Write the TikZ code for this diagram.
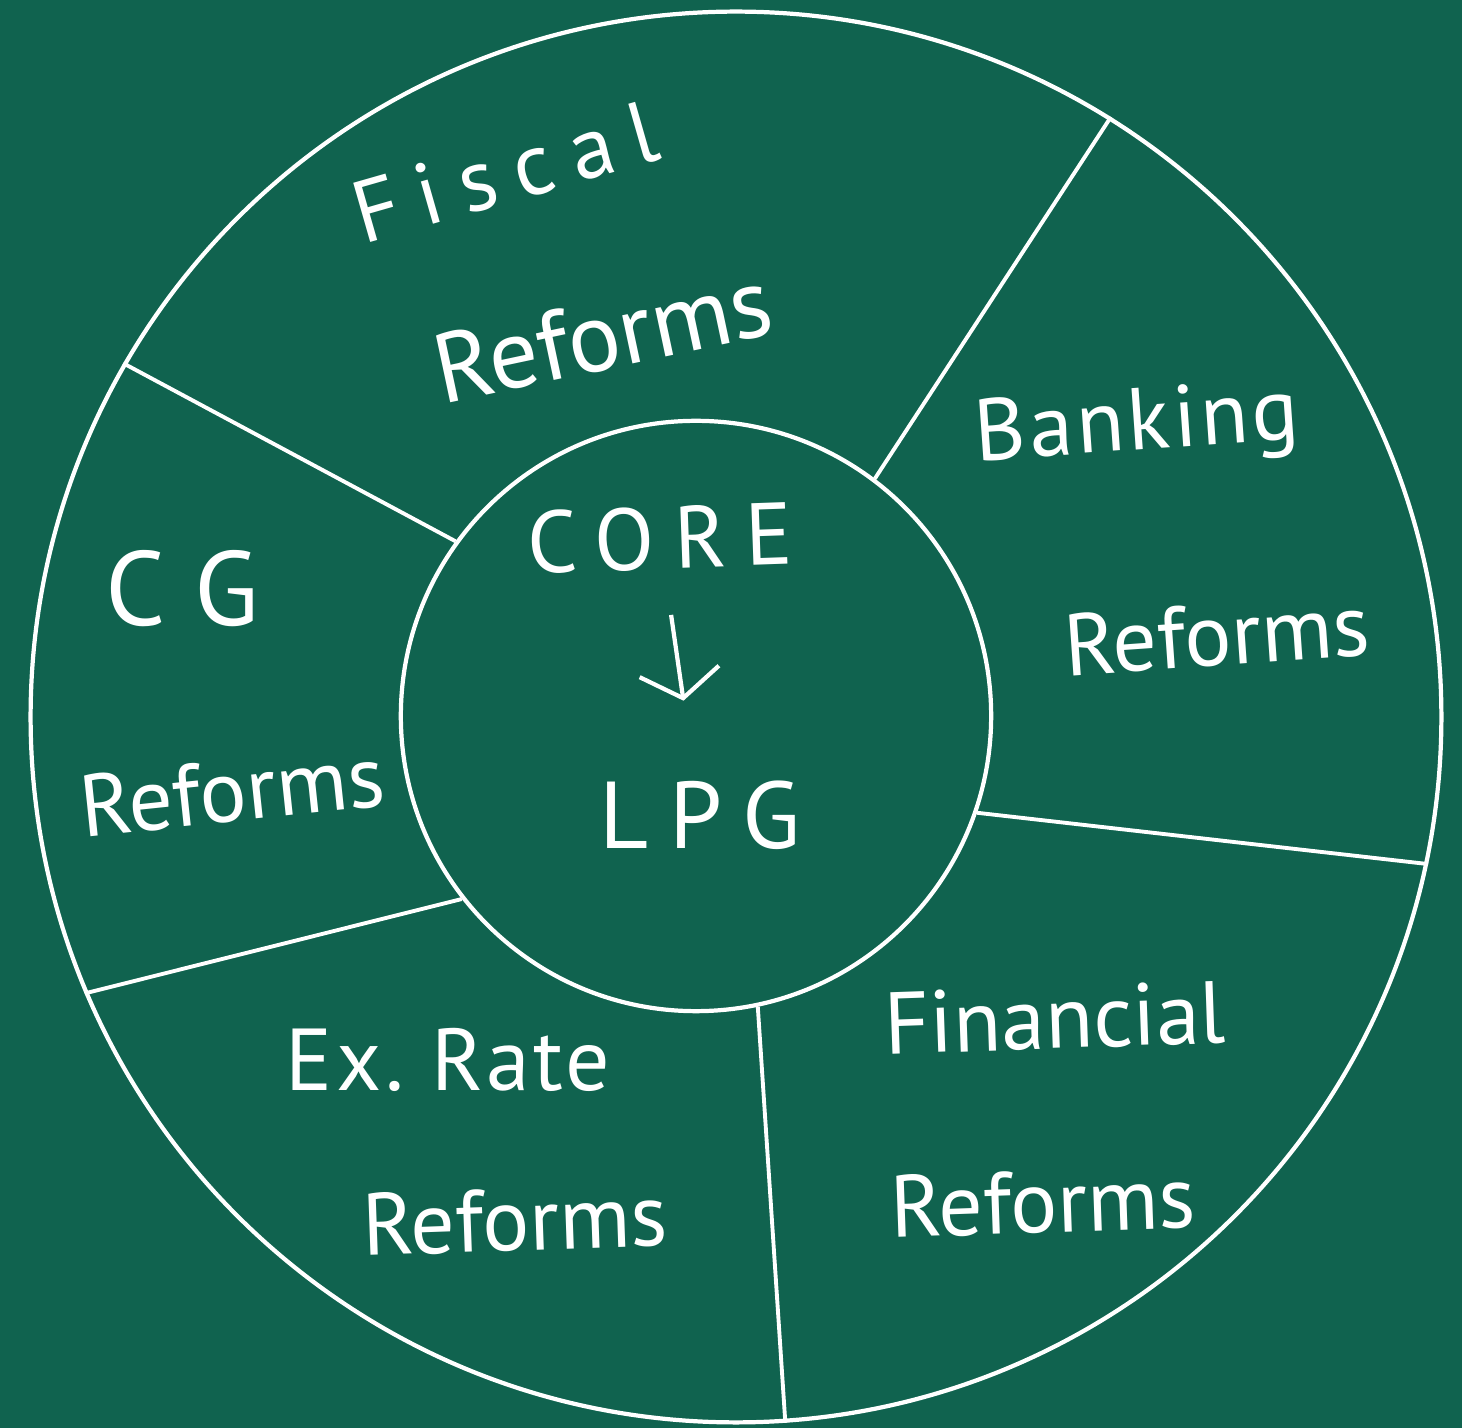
\documentclass[tikz,border=0pt]{standalone}
\usepackage{fontspec}
\setmainfont{PT Sans}
\newfontfamily\chalk{PT Sans}
\newfontfamily\chalkmid[LetterSpace=4]{PT Sans}
\newfontfamily\chalkwide[LetterSpace=22]{PT Sans}
\usetikzlibrary{arrows.meta, positioning}
\definecolor{board}{RGB}{16,99,79}

\tikzset{
  ring/.style={circle, draw=white, line width=1.2pt, inner sep=0pt},
  divider/.style={draw=white, line width=1.1pt},
  word/.style={text=white, inner sep=0pt, font=\chalk\fontsize{25}{30}\selectfont},
  midword/.style={word, font=\chalkmid\fontsize{25}{30}\selectfont},
  wideword/.style={word, font=\chalkwide\fontsize{25}{30}\selectfont},
}

\begin{document}
\begin{tikzpicture}[x=0.01cm, y=-0.01cm]
% Board
\fill[board] (0,0) rectangle (1462,1428);
\useasboundingbox (0,0) rectangle (1462,1428);

% Rings
\node[ring, minimum size=14.1cm] (rim) at (736,717) {};
\node[ring, minimum size=5.9cm] (core) at (696,716) {};

% Dividers
\draw[divider] (core.144) -- (rim.150);
\draw[divider] (core.53) -- (rim.58);
\draw[divider] (core.341) -- (rim.348);
\draw[divider] (core.282) -- (rim.274);
\draw[divider] (core.218) -- (rim.203);

% Centre
\node[wideword, rotate=2] (corelbl) at (660,538) {CORE};
\node[wideword, font=\chalkwide\fontsize{27}{32}\selectfont] (lpg) at (700,815) {LPG};
\draw[white, line width=1.2pt, -{Straight Barb[length=0.27cm, width=0.8cm]},
  shorten <=0.45cm, shorten >=0.8cm] (corelbl) -- (lpg);

% Segments
\node[wideword, rotate=16] (fiscal) at (505,172) {Fiscal};
\node[word, rotate=12, font=\chalk\fontsize{28}{32}\selectfont] (fiscalref) at (603,335) {Reforms};
\node[midword, rotate=4] (banking) at (1137,428) {Banking};
\node[word, rotate=4] (bankingref) at (1217,635) {Reforms};
\node[word, rotate=2] (financial) at (1055,1018) {Financial};
\node[word, rotate=2] (financialref) at (1043,1202) {Reforms};
\node[midword] (exrate) at (448,1060) {Ex.\ Rate};
\node[word, rotate=2] (exrateref) at (515,1220) {Reforms};
\node[word, font=\chalk\fontsize{30}{34}\selectfont\addfontfeature{LetterSpace=30}] (cg) at (182,589) {CG};
\node[word, rotate=6] (cgref) at (232,791) {Reforms};
\end{tikzpicture}
\end{document}
